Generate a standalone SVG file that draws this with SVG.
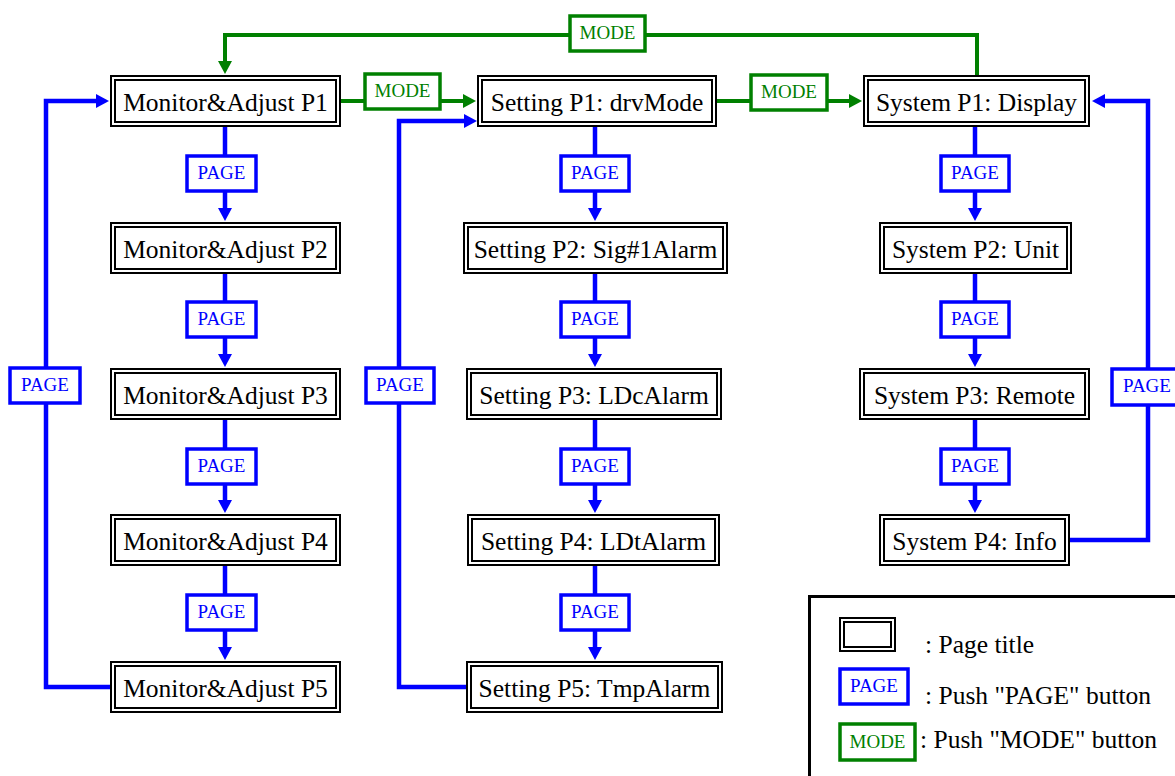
<svg xmlns="http://www.w3.org/2000/svg" width="1175" height="776" viewBox="0 0 1175 776">
<defs>
<style>
.o{fill:#fff;stroke:#000;stroke-width:2}
.i{fill:none;stroke:#000;stroke-width:2}
.t{font-family:"Liberation Serif","Times New Roman",serif;font-size:25.5px;fill:#000;text-anchor:middle}
.lt{font-family:"Liberation Serif","Times New Roman",serif;font-size:25.5px;fill:#000}
.bl{fill:none;stroke:#0000ff;stroke-width:4.5}
.gl{fill:none;stroke:#008000;stroke-width:4}
.pb{fill:#fff;stroke:#0000ff;stroke-width:3.5}
.mb{fill:#fff;stroke:#008000;stroke-width:3.5}
.pt{font-family:"Liberation Serif","Times New Roman",serif;font-size:19px;fill:#0000ff;text-anchor:middle}
.mt{font-family:"Liberation Serif","Times New Roman",serif;font-size:19px;fill:#008000;text-anchor:middle}
</style>
<marker id="ab" markerUnits="userSpaceOnUse" markerWidth="13" markerHeight="14" refX="3" refY="7" orient="auto"><path d="M0,0 L13,7 L0,14 Z" fill="#0000ff"/></marker>
<marker id="ag" markerUnits="userSpaceOnUse" markerWidth="13" markerHeight="14" refX="3" refY="7" orient="auto"><path d="M0,0 L13,7 L0,14 Z" fill="#008000"/></marker>
</defs>
<rect width="1175" height="776" fill="#fff"/>

<g id="connectors">
<path class="bl" marker-end="url(#ab)" d="M225,127 V211"/>
<path class="bl" marker-end="url(#ab)" d="M225,274 V357"/>
<path class="bl" marker-end="url(#ab)" d="M225,420 V503"/>
<path class="bl" marker-end="url(#ab)" d="M225,566 V650"/>
<path class="bl" marker-end="url(#ab)" d="M595,127 V211"/>
<path class="bl" marker-end="url(#ab)" d="M595,274 V357"/>
<path class="bl" marker-end="url(#ab)" d="M595,420 V503"/>
<path class="bl" marker-end="url(#ab)" d="M595,566 V650"/>
<path class="bl" marker-end="url(#ab)" d="M975,127 V211"/>
<path class="bl" marker-end="url(#ab)" d="M975,274 V357"/>
<path class="bl" marker-end="url(#ab)" d="M975,420 V503"/>
<path class="bl" marker-end="url(#ab)" d="M110,687 H46 V101 H99"/>
<path class="bl" marker-end="url(#ab)" d="M466,687 H399 V121 H467"/>
<path class="bl" marker-end="url(#ab)" d="M1070,540 H1148 V101 H1102"/>
<path class="gl" marker-end="url(#ag)" d="M977,75 V35 H225 V64"/>
<path class="gl" marker-end="url(#ag)" d="M341,101 H466"/>
<path class="gl" marker-end="url(#ag)" d="M716,101 H852"/>

<rect class="pb" x="187" y="156" width="69" height="35"/><text class="pt" x="221.5" y="179">PAGE</text>
<rect class="pb" x="187" y="302" width="69" height="35"/><text class="pt" x="221.5" y="325">PAGE</text>
<rect class="pb" x="187" y="449" width="69" height="35"/><text class="pt" x="221.5" y="472">PAGE</text>
<rect class="pb" x="187" y="595" width="69" height="35"/><text class="pt" x="221.5" y="618">PAGE</text>
<rect class="pb" x="561" y="156" width="68" height="35"/><text class="pt" x="595" y="179">PAGE</text>
<rect class="pb" x="561" y="302" width="68" height="35"/><text class="pt" x="595" y="325">PAGE</text>
<rect class="pb" x="561" y="449" width="68" height="35"/><text class="pt" x="595" y="472">PAGE</text>
<rect class="pb" x="561" y="595" width="68" height="35"/><text class="pt" x="595" y="618">PAGE</text>
<rect class="pb" x="941" y="156" width="68" height="35"/><text class="pt" x="975" y="179">PAGE</text>
<rect class="pb" x="941" y="302" width="68" height="35"/><text class="pt" x="975" y="325">PAGE</text>
<rect class="pb" x="941" y="449" width="68" height="35"/><text class="pt" x="975" y="472">PAGE</text>
<rect class="pb" x="10" y="368" width="70" height="35"/><text class="pt" x="45" y="391">PAGE</text>
<rect class="pb" x="366" y="368" width="68" height="35"/><text class="pt" x="400" y="391">PAGE</text>
<rect class="pb" x="1112" y="369" width="70" height="36"/><text class="pt" x="1147" y="392">PAGE</text>

<rect class="mb" x="365" y="74" width="75" height="35"/><text class="mt" x="402.5" y="97">MODE</text>
<rect class="mb" x="751" y="75" width="76" height="35"/><text class="mt" x="789" y="98">MODE</text>
<rect class="mb" x="570" y="16" width="75" height="35"/><text class="mt" x="607.5" y="39">MODE</text>
</g>

<g id="ma1"><rect class="o" x="111" y="76" width="229" height="50"/><rect class="i" x="115" y="80" width="221" height="42"/><text class="t" x="225.5" y="111">Monitor&amp;Adjust P1</text></g>
<g id="ma2"><rect class="o" x="111" y="223" width="229" height="50"/><rect class="i" x="115" y="227" width="221" height="42"/><text class="t" x="225.5" y="258">Monitor&amp;Adjust P2</text></g>
<g id="ma3"><rect class="o" x="111" y="369" width="229" height="50"/><rect class="i" x="115" y="373" width="221" height="42"/><text class="t" x="225.5" y="404">Monitor&amp;Adjust P3</text></g>
<g id="ma4"><rect class="o" x="111" y="515" width="229" height="50"/><rect class="i" x="115" y="519" width="221" height="42"/><text class="t" x="225.5" y="550">Monitor&amp;Adjust P4</text></g>
<g id="ma5"><rect class="o" x="111" y="662" width="229" height="50"/><rect class="i" x="115" y="666" width="221" height="42"/><text class="t" x="225.5" y="697">Monitor&amp;Adjust P5</text></g>

<g id="s1"><rect class="o" x="478" y="76" width="238" height="50"/><rect class="i" x="482" y="80" width="230" height="42"/><text class="t" x="597" y="111">Setting P1: drvMode</text></g>
<g id="s2"><rect class="o" x="464" y="223" width="263" height="50"/><rect class="i" x="468" y="227" width="255" height="42"/><text class="t" x="595.5" y="258">Setting P2: Sig#1Alarm</text></g>
<g id="s3"><rect class="o" x="467" y="369" width="254" height="50"/><rect class="i" x="471" y="373" width="246" height="42"/><text class="t" x="594" y="404">Setting P3: LDcAlarm</text></g>
<g id="s4"><rect class="o" x="468" y="515" width="251" height="50"/><rect class="i" x="472" y="519" width="243" height="42"/><text class="t" x="593.5" y="550">Setting P4: LDtAlarm</text></g>
<g id="s5"><rect class="o" x="467" y="662" width="255" height="50"/><rect class="i" x="471" y="666" width="247" height="42"/><text class="t" x="594.5" y="697">Setting P5: TmpAlarm</text></g>

<g id="y1"><rect class="o" x="864" y="76" width="225" height="50"/><rect class="i" x="868" y="80" width="217" height="42"/><text class="t" x="976.5" y="111">System P1: Display</text></g>
<g id="y2"><rect class="o" x="880" y="223" width="191" height="50"/><rect class="i" x="884" y="227" width="183" height="42"/><text class="t" x="975.5" y="258">System P2: Unit</text></g>
<g id="y3"><rect class="o" x="860" y="369" width="229" height="50"/><rect class="i" x="864" y="373" width="221" height="42"/><text class="t" x="974.5" y="404">System P3: Remote</text></g>
<g id="y4"><rect class="o" x="880" y="515" width="189" height="50"/><rect class="i" x="884" y="519" width="181" height="42"/><text class="t" x="974.5" y="550">System P4: Info</text></g>

<g id="legend">
<rect x="809.5" y="596.5" width="380" height="200" fill="none" stroke="#000" stroke-width="3"/>
<rect class="o" x="840" y="618" width="55" height="33"/><rect class="i" x="844" y="622" width="47" height="25"/>
<text class="lt" x="925" y="653">: Page title</text>
<rect class="pb" x="840" y="669" width="68" height="35"/><text class="pt" x="874" y="692">PAGE</text>
<text class="lt" x="925" y="704">: Push "PAGE" button</text>
<rect class="mb" x="840" y="724" width="75" height="36"/><text class="mt" x="877.5" y="748">MODE</text>
<text class="lt" x="920" y="748">: Push "MODE" button</text>
</g>
</svg>
